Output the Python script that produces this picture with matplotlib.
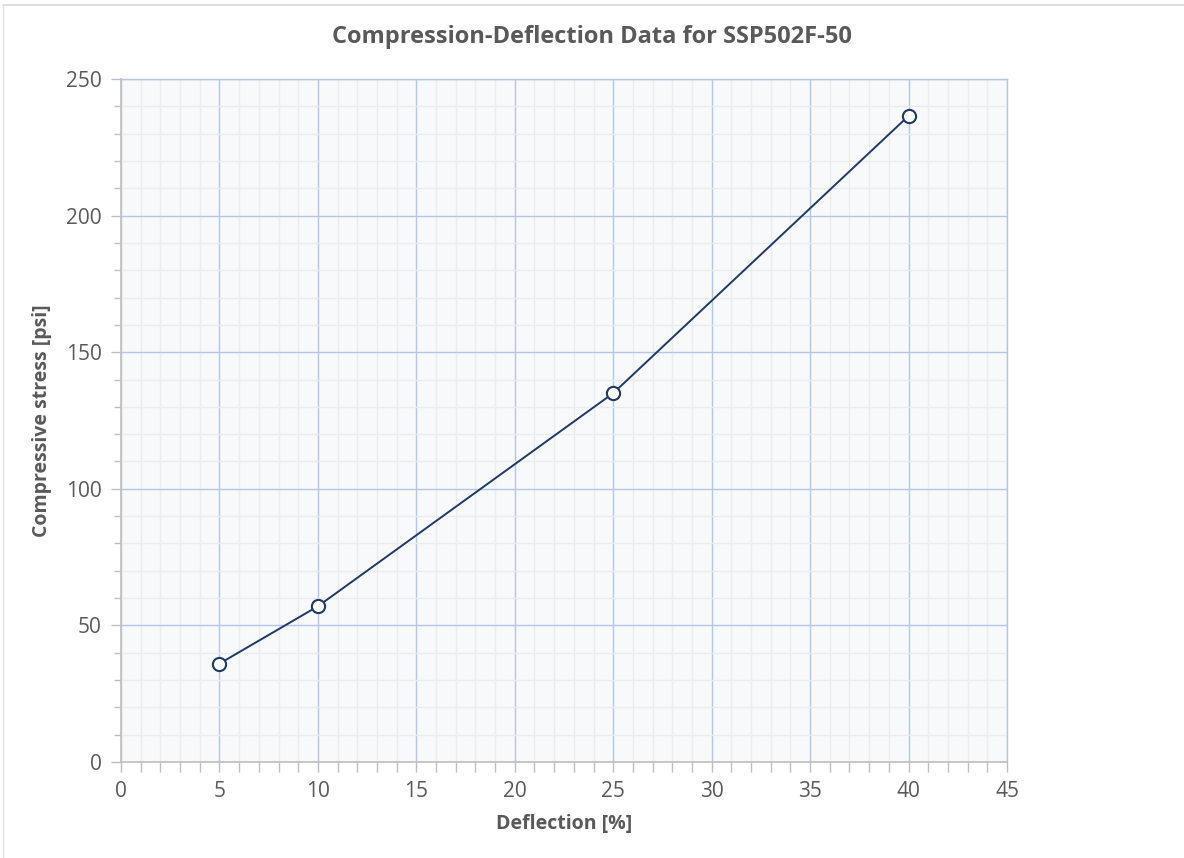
import matplotlib
matplotlib.use('Agg')
import matplotlib.pyplot as plt
from matplotlib.lines import Line2D
from matplotlib.ticker import MultipleLocator

# data
deflection = [5, 10, 25, 40]
stress = [36, 57, 135, 236.5]

title = "Compression-Deflection Data for SSP502F-50"
xlabel = "Deflection [%]"
ylabel = "Compressive stress [psi]"

text_grey = '#595959'
line_col = '#203864'

fig = plt.figure(figsize=(11.84, 8.58), dpi=100)
ax = fig.add_axes([121 / 1184, 96 / 858, 886 / 1184, 683 / 858])
ax.set_facecolor('#f8f9fb')

# chart border: only top and left edges visible in the reference
fig.lines.append(Line2D([3 / 1184, 1], [1 - 5 / 858, 1 - 5 / 858],
                        transform=fig.transFigure, color='#d9d9d9',
                        linewidth=1.2))
fig.lines.append(Line2D([3 / 1184, 3 / 1184], [0, 1 - 5 / 858],
                        transform=fig.transFigure, color='#e3e3e3',
                        linewidth=1.0))

ax.plot(deflection, stress, color=line_col, linewidth=1.4, marker='o',
        markersize=9.5, markerfacecolor='white', markeredgecolor=line_col,
        markeredgewidth=1.5, zorder=5)

ax.set_xlim(0, 45)
ax.set_ylim(0, 250)
ax.xaxis.set_major_locator(MultipleLocator(5))
ax.xaxis.set_minor_locator(MultipleLocator(1))
ax.yaxis.set_major_locator(MultipleLocator(50))
ax.yaxis.set_minor_locator(MultipleLocator(10))

ax.grid(which='minor', color='#ececec', linewidth=1.0)
ax.grid(which='major', color='#b4c6e7', linewidth=1.0)
ax.set_axisbelow(True)

for side in ['top', 'right']:
    ax.spines[side].set_color('#b4c6e7')
    ax.spines[side].set_linewidth(1.0)
for side in ['left', 'bottom']:
    ax.spines[side].set_color('#bfbfbf')
    ax.spines[side].set_linewidth(1.2)

ax.tick_params(which='both', direction='out', color='#bfbfbf', width=1.0)
ax.tick_params(which='major', length=7, labelsize=15, labelcolor=text_grey,
               pad=7)
ax.tick_params(axis='y', which='minor', length=5)
ax.tick_params(axis='x', which='minor', length=7)
for lab in ax.get_xticklabels() + ax.get_yticklabels():
    lab.set_family('Open Sans')

ax.set_xlabel(xlabel, fontsize=14, fontweight='bold', color=text_grey,
              family='Open Sans', labelpad=8)
ax.set_ylabel(ylabel, fontsize=14, fontweight='bold', color=text_grey,
              family='Open Sans', labelpad=10)
fig.text(592 / 1184, 1 - 37 / 858, title, ha='center', va='center',
         fontsize=17, fontweight='bold', color=text_grey, family='Open Sans')

fig.savefig('out.png', dpi=100)
plt.close(fig)
